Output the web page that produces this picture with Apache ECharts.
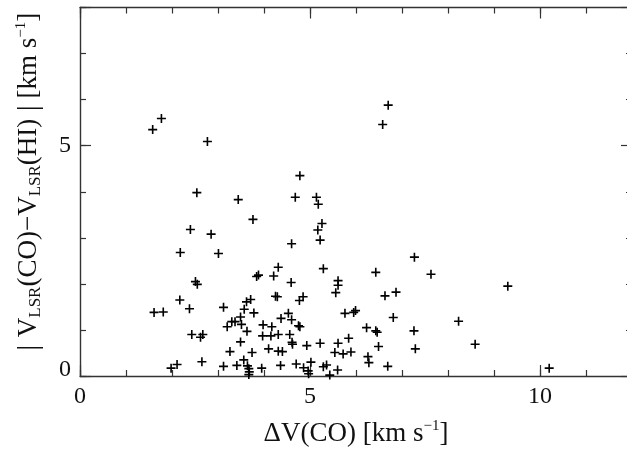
<!DOCTYPE html>
<html>
<head>
<meta charset="utf-8">
<script src="https://cdn.jsdelivr.net/npm/echarts@6/dist/echarts.min.js"></script>
<style>html,body{margin:0;padding:0;background:#fff;}#c{width:627px;height:454px;}</style>
</head>
<body>
<div id="c"></div>
<script>
// ΔV(CO) [km/s]
const deltaV = [
  1.58,1.77,2.77,6.70,6.58,4.78,2.54,3.44,4.68,5.14,5.18,3.76,5.26,2.40,2.85,5.17,5.22,2.18,3.01,4.60,
  7.27,4.31,5.29,3.88,3.84,4.21,7.63,6.43,2.51,2.55,4.59,5.61,5.61,9.30,5.56,6.87,6.63,4.25,4.29,4.85,
  4.77,3.71,3.62,2.17,1.61,1.81,2.38,3.12,3.57,3.78,3.30,3.37,3.49,3.51,3.20,3.63,3.98,4.17,4.53,4.60,
  4.37,4.75,4.78,5.76,5.95,5.99,6.81,6.23,6.43,6.46,7.26,8.23,2.43,2.67,2.62,3.97,4.15,4.31,4.56,4.61,
  4.62,3.49,4.93,5.22,5.61,5.84,6.49,8.59,7.29,3.26,3.74,4.10,4.31,4.40,5.54,5.72,5.89,6.26,6.28,6.69,
  2.65,2.11,1.98,3.12,3.41,3.56,3.64,3.67,3.68,3.67,3.95,4.36,4.70,4.86,4.96,4.97,5.02,5.29,5.36,5.43,
  5.60,10.20
];
// |VLSR(CO) - VLSR(HI)| [km/s]
const velDiff = [
  5.35,5.59,5.09,5.88,5.46,4.35,3.98,3.83,3.88,3.88,3.73,3.40,3.31,3.18,3.08,3.17,2.95,2.68,2.66,2.87,
  2.58,2.36,2.33,2.19,2.16,2.17,2.21,2.25,2.05,1.99,2.03,2.07,1.97,1.95,1.81,1.82,1.74,1.73,1.72,1.72,
  1.64,1.66,1.61,1.65,1.38,1.39,1.46,1.49,1.45,1.37,1.18,1.18,1.28,1.12,1.07,0.97,1.11,1.07,1.36,1.22,
  1.25,1.09,1.07,1.36,1.38,1.42,1.27,1.05,0.98,0.95,0.98,1.19,0.90,0.90,0.84,0.87,0.87,0.90,0.90,0.73,
  0.69,0.74,0.66,0.71,0.71,0.82,0.64,0.69,0.59,0.53,0.51,0.59,0.54,0.53,0.51,0.48,0.52,0.42,0.29,0.21,
  0.31,0.25,0.17,0.21,0.23,0.35,0.22,0.16,0.09,0.03,0.17,0.23,0.26,0.18,0.11,0.05,0.30,0.20,0.24,0.02,
  0.13,0.17
];
const xTickLabels = ['0', '5', '10'];
const yTickLabels = ['0', '5'];

const points = deltaV.map((v, i) => [v, velDiff[i]]);
const FONT = 'Liberation Serif';
const LINE = '#333';

function xAx(pos, interval, len, showLine, showLabel) {
  return {
    type: 'value', position: pos, min: 0, max: 12, interval: interval,
    axisLine: { show: showLine, onZero: false, lineStyle: { color: LINE, width: 1.4 } },
    axisTick: { show: true, inside: true, length: len, lineStyle: { color: LINE, width: 1.2 } },
    axisLabel: {
      show: showLabel, margin: 9, color: '#111', fontFamily: FONT, fontSize: 24,
      formatter: v => xTickLabels.indexOf(String(v)) >= 0 ? String(v) : ''
    },
    splitLine: { show: false }
  };
}
function yAx(pos, interval, len, showLine, showLabel) {
  return {
    type: 'value', position: pos, min: 0, max: 8, interval: interval,
    axisLine: { show: showLine, onZero: false, lineStyle: { color: LINE, width: 1.4 } },
    axisTick: { show: true, inside: true, length: len, lineStyle: { color: LINE, width: 1.2 } },
    axisLabel: {
      show: showLabel, margin: 9, color: '#111', fontFamily: FONT, fontSize: 24,
      formatter: v => {
        const s = String(v);
        if (yTickLabels.indexOf(s) < 0) return '';
        return v === 0 ? '{z|' + s + '}' : s;
      },
      rich: { z: { fontFamily: FONT, fontSize: 24, color: '#111', padding: [0, 0, 12, 0] } }
    },
    splitLine: { show: false }
  };
}

const xMain = xAx('bottom', 5, 11, true, true);
xMain.name = '{n|ΔV(CO) [km s}{sup|−1}{n|]}';
xMain.nameLocation = 'middle';
xMain.nameGap = 43;
xMain.nameTextStyle = {
  rich: {
    n: { fontFamily: FONT, fontSize: 27, color: '#111', lineHeight: 30 },
    sup: { fontFamily: FONT, fontSize: 15, color: '#111', verticalAlign: 'top', lineHeight: 15 }
  }
};
const yMain = yAx('left', 5, 11, true, true);
yMain.name = '{bar|| }{n|V}{sub|LSR}{n|(CO)−V}{sub|LSR}{n|(HI)}{bar| |}{n| [km s}{sup|−1}{n|]}';
yMain.nameLocation = 'middle';
yMain.nameGap = 36;
yMain.nameTextStyle = {
  padding: [0, 0, 0, 20],
  rich: {
    n: { fontFamily: FONT, fontSize: 27, color: '#111', lineHeight: 30 },
    bar: { fontFamily: FONT, fontSize: 30, color: '#111', lineHeight: 30 },
    sub: { fontFamily: FONT, fontSize: 17, color: '#111', verticalAlign: 'bottom', lineHeight: 21 },
    sup: { fontFamily: FONT, fontSize: 15, color: '#111', verticalAlign: 'top', lineHeight: 15 }
  }
};

const chart = echarts.init(document.getElementById('c'), null, { renderer: 'canvas' });
chart.setOption({
  animation: false,
  backgroundColor: '#fff',
  grid: { left: 80, top: 7.5, right: -5, bottom: 78, containLabel: false, outerBoundsMode: 'none' },
  xAxis: [
    xMain,
    xAx('bottom', 1, 6, false, false),
    xAx('top', 5, 11, true, false),
    xAx('top', 1, 6, false, false)
  ],
  yAxis: [
    yMain,
    yAx('left', 1, 6, false, false),
    yAx('right', 5, 11, false, false),
    yAx('right', 1, 6, false, false)
  ],
  series: [{
    type: 'scatter',
    xAxisIndex: 0, yAxisIndex: 0,
    data: points,
    symbol: 'path://M0,4.1H10V5.9H0Z M4.1,0H5.9V10H4.1Z',
    symbolSize: 9,
    itemStyle: { color: '#000', opacity: 1 },
    silent: true
  }]
});
</script>
</body>
</html>
